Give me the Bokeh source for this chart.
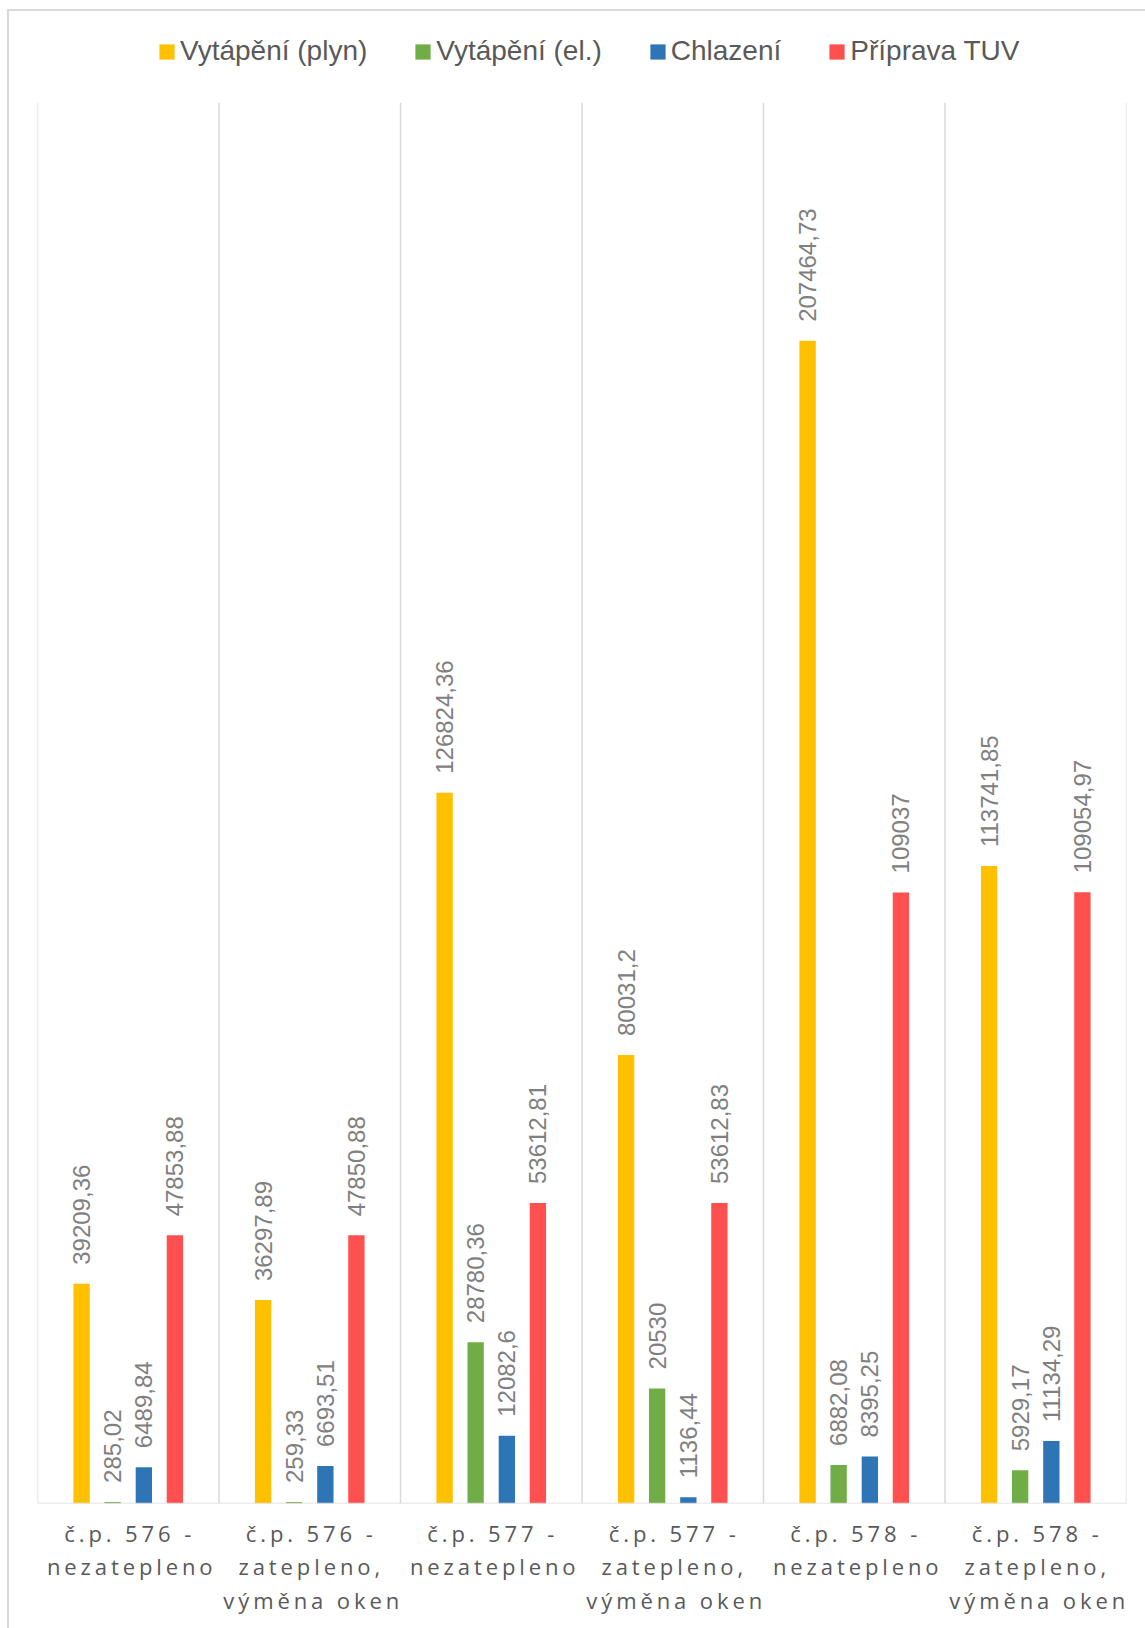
import math
from bokeh.plotting import figure
from bokeh.models import FactorRange, Range1d, Span, Legend, LegendItem, ColumnDataSource
from bokeh.transform import dodge
from bokeh.layouts import column
from bokeh.core.properties import value
from bokeh.embed import file_html
from bokeh.resources import INLINE

# ---- data ----
categories = [
    "č.p. 576 -\nnezatepleno",
    "č.p. 576 -\nzatepleno,\nvýměna oken",
    "č.p. 577 -\nnezatepleno",
    "č.p. 577 -\nzatepleno,\nvýměna oken",
    "č.p. 578 -\nnezatepleno",
    "č.p. 578 -\nzatepleno,\nvýměna oken",
]
series_names = ["Vytápění (plyn)", "Vytápění (el.)", "Chlazení", "Příprava TUV"]
heating_gas = [39209.36, 36297.89, 126824.36, 80031.2, 207464.73, 113741.85]
heating_el = [285.02, 259.33, 28780.36, 20530, 6882.08, 5929.17]
cooling = [6489.84, 6693.51, 12082.6, 1136.44, 8395.25, 11134.29]
hot_water = [47853.88, 47850.88, 53612.81, 53612.83, 109037, 109054.97]
colors = ["#FFC000", "#70AD47", "#2E75B6", "#FF5050"]
y_max = 250000


def fmt(v):
    s = f"{v:.2f}".rstrip("0").rstrip(".")
    return s.replace(".", ",")


GRID = "#d9d9d9"
LEFT_LINE = "linear-gradient(#d9d9d9,#d9d9d9) 7px 0 / 2px 100% no-repeat"

# ---- legend strip ----
p0 = figure(
    width=1145, height=102,
    x_range=Range1d(0, 1), y_range=Range1d(0, 1),
    x_axis_location=None, y_axis_location=None,
    min_border_left=0, min_border_right=0, min_border_top=0, min_border_bottom=0,
    output_backend="svg", toolbar_location=None,
)
p0.grid.visible = False
p0.outline_line_color = None
p0.border_fill_color = None
p0.background_fill_color = None
p0.styles = {
    "background": "linear-gradient(#d9d9d9,#d9d9d9) 7px 9px / 2px 100% no-repeat, "
                  "linear-gradient(#d9d9d9,#d9d9d9) 7px 9px / 100% 2px no-repeat"
}

# ---- main chart ----
p = figure(
    width=1145, height=1403,
    x_range=FactorRange(factors=categories, range_padding=0),
    y_range=Range1d(0, y_max),
    x_axis_location=None, y_axis_location=None,
    min_border_left=37, min_border_right=19, min_border_top=0, min_border_bottom=2,
    output_backend="svg", toolbar_location=None,
)
p.grid.visible = False
p.outline_line_color = None
p.border_fill_color = None
p.background_fill_color = None
p.styles = {"background": LEFT_LINE}

for i in range(len(categories) + 1):
    p.add_layout(Span(location=i, dimension="height", line_color=GRID, line_width=1.5))
p.add_layout(Span(location=0, dimension="width", line_color=GRID, line_width=1.5))

offsets = [-0.257, -0.086, 0.086, 0.257]
series = [heating_gas, heating_el, cooling, hot_water]
items = []
for name, vals, off, col in zip(series_names, series, offsets, colors):
    src = ColumnDataSource(dict(cat=categories, val=vals, lab=[fmt(v) for v in vals]))
    p.vbar(x=dodge("cat", off, range=p.x_range), top="val", width=0.09, source=src,
           fill_color=col, line_color=None)
    p.text(x=dodge("cat", off, range=p.x_range), y="val", text="lab", source=src,
           angle=math.pi / 2, text_align="left", text_baseline="middle", y_offset=-19,
           text_font=value("Liberation Sans"), text_font_size="24px", text_color="#808080")
    # legend swatch proxy (zero-height, invisible in the strip; only used by the legend)
    r = p0.vbar(x=[0.5], top=[0], bottom=[0], width=0.01, fill_color=col, line_color=None)
    items.append(LegendItem(label=name, renderers=[r]))

legend = Legend(
    items=items, orientation="horizontal", location=(120, 35),
    glyph_width=19, glyph_height=19, label_standoff=4, spacing=46,
    padding=0, margin=0, border_line_color=None, background_fill_alpha=0,
    label_text_font="Liberation Sans", label_text_font_size="28px",
    label_text_color="#595959",
)
p0.add_layout(legend)

# ---- category labels (letter-spaced) ----
p2 = figure(
    width=1145, height=123,
    x_range=p.x_range, y_range=Range1d(0, 123),
    x_axis_location=None, y_axis_location=None,
    min_border_left=37, min_border_right=19, min_border_top=0, min_border_bottom=0,
    output_backend="svg", toolbar_location=None,
)
p2.grid.visible = False
p2.outline_line_color = None
p2.border_fill_color = None
p2.background_fill_color = None
p2.styles = {"background": LEFT_LINE, "letter-spacing": "3.9px"}
lab_src = ColumnDataSource(dict(cat=categories, y=[p2.y_range.end - 12] * len(categories)))
p2.text(x="cat", y="y", text="cat", source=lab_src, text_align="center", text_baseline="top",
        x_offset=-18, text_font=value("Open Sans"), text_font_size="22px", text_color="#595959",
        text_line_height=1.13)

layout = column(p0, p, p2, spacing=0)
open("out.html", "w").write(file_html(layout, INLINE))
